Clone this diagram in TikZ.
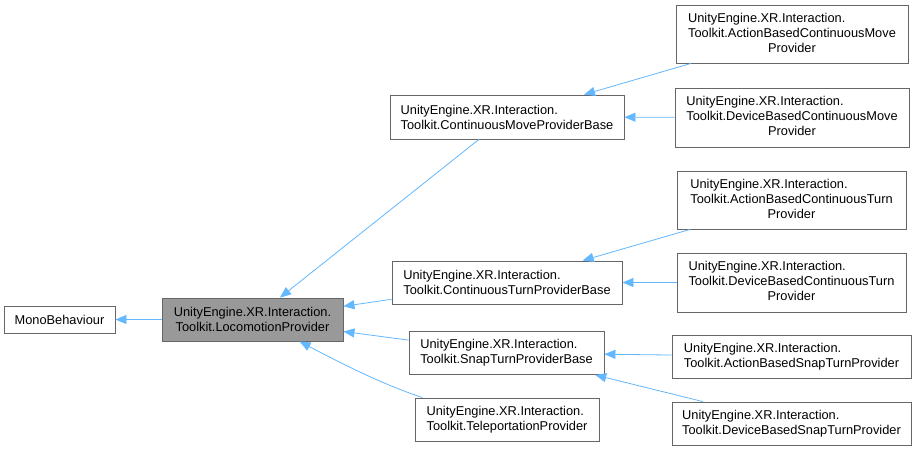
\documentclass[tikz,border=0pt]{standalone}
\usepackage{fontspec}
\setmainfont{Liberation Sans}
\usepackage{tikz}
\usetikzlibrary{positioning,arrows.meta,calc}
\definecolor{boxgray}{HTML}{666666}
\definecolor{curgray}{HTML}{999999}
\definecolor{edgeblue}{HTML}{63B8FF}
\newcommand{\tripleline}[3]{\begin{tabular}{@{}l@{}}#1\\#2\\\multicolumn{1}{@{}c@{}}{#3}\end{tabular}}
\tikzset{
  classbox/.style={draw=boxgray, line width=0.9pt, fill=white, inner sep=0pt, align=left, font=\fontsize{12.8}{15}\selectfont},
  curbox/.style={classbox, fill=curgray, align=center},
  inherit/.style={-{Triangle[length=11pt, width=9pt]}, draw=edgeblue, line width=0.8pt}
}

\begin{document}
\begin{tikzpicture}[x=1pt, y=-1pt]
  \fill[white] (0,0) rectangle (917,451);
  \useasboundingbox (0,0) rectangle (917,451);
  % base classes
  \node[classbox, minimum width=111pt, minimum height=27pt] (mono) at (59.5,319.5) {MonoBehaviour};
  \node[curbox, minimum width=181pt, minimum height=43pt] (loco) at (252.5,319.5) {UnityEngine.XR.Interaction.\\Toolkit.LocomotionProvider};
  % middle column
  \node[classbox, minimum width=234pt, minimum height=44pt] (cmpb) at (507,117) {UnityEngine.XR.Interaction.\\Toolkit.ContinuousMoveProviderBase};
  \node[classbox, minimum width=230pt, minimum height=43pt] (ctpb) at (507,282.5) {UnityEngine.XR.Interaction.\\Toolkit.ContinuousTurnProviderBase};
  \node[classbox, minimum width=195pt, minimum height=43pt] (snap) at (506.5,353) {UnityEngine.XR.Interaction.\\Toolkit.SnapTurnProviderBase};
  \node[classbox, minimum width=184pt, minimum height=43pt] (tele) at (507,419.5) {UnityEngine.XR.Interaction.\\Toolkit.TeleportationProvider};
  % right column
  \node[classbox, minimum width=232pt, minimum height=58pt] (abcm) at (792,34) {\tripleline{UnityEngine.XR.Interaction.}{Toolkit.ActionBasedContinuousMove}{Provider}};
  \node[classbox, minimum width=234pt, minimum height=59pt] (dbcm) at (792,117.5) {\tripleline{UnityEngine.XR.Interaction.}{Toolkit.DeviceBasedContinuousMove}{Provider}};
  \node[classbox, minimum width=229pt, minimum height=58pt] (abct) at (791.5,200) {\tripleline{UnityEngine.XR.Interaction.}{Toolkit.ActionBasedContinuousTurn}{Provider}};
  \node[classbox, minimum width=229pt, minimum height=59pt] (dbct) at (791.5,282.5) {\tripleline{UnityEngine.XR.Interaction.}{Toolkit.DeviceBasedContinuousTurn}{Provider}};
  \node[classbox, minimum width=239pt, minimum height=43pt] (absn) at (791.5,356.5) {UnityEngine.XR.Interaction.\\Toolkit.ActionBasedSnapTurnProvider};
  \node[classbox, minimum width=239pt, minimum height=43pt] (dbsn) at (791.5,423.5) {UnityEngine.XR.Interaction.\\Toolkit.DeviceBasedSnapTurnProvider};
  % inheritance
  \draw[inherit] (loco) -- (mono);
  \draw[inherit] (cmpb) -- (loco);
  \draw[inherit] (ctpb) -- (loco);
  \draw[inherit] (snap) -- (loco);
  \coordinate (telefoot) at ($(tele.north west)+(8,0)$);
  \coordinate (locofoot) at ($(loco.south west)+(138,0)$);
  \draw[inherit] (telefoot) .. controls ($(telefoot)+(-40,-13)$) and ($(locofoot)+(40,21)$) .. (locofoot);
  \draw[inherit] (abcm) -- (cmpb);
  \draw[inherit] (dbcm) -- (cmpb);
  \draw[inherit] (abct) -- (ctpb);
  \draw[inherit] (dbct) -- (ctpb);
  \draw[inherit] (absn) -- (snap);
  \draw[inherit] (dbsn) -- (snap);
\end{tikzpicture}
\end{document}
